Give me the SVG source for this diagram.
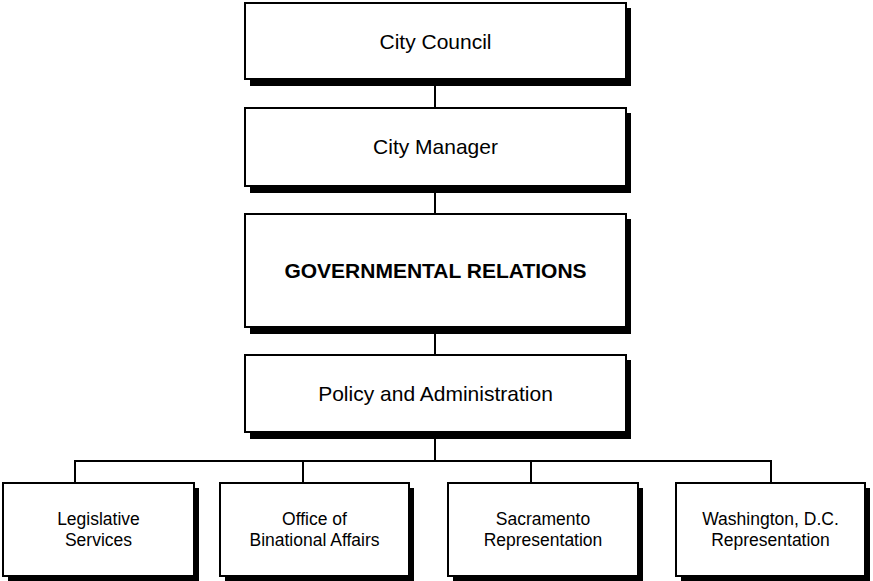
<svg xmlns="http://www.w3.org/2000/svg" width="873" height="581" viewBox="0 0 873 581">
<defs>
<style>
.box{fill:#fff;stroke:#000;stroke-width:2}
.sh{fill:#000}
.t{font-family:"Liberation Sans",Arial,sans-serif;font-size:21px;fill:#000;text-anchor:middle}
.b{font-weight:bold}
.s{font-size:17.5px}
.c{stroke:#000;stroke-width:2;fill:none}
</style>
</defs>
<rect width="873" height="581" fill="#fff"/>
<g id="connectors">
<line class="c" x1="435" y1="80" x2="435" y2="107"/>
<line class="c" x1="435" y1="187" x2="435" y2="213"/>
<line class="c" x1="435" y1="328" x2="435" y2="354"/>
<line class="c" x1="435" y1="433" x2="435" y2="461"/>
<polyline class="c" points="75,482 75,461 771,461 771,482"/>
<line class="c" x1="303" y1="461" x2="303" y2="482"/>
<line class="c" x1="531" y1="461" x2="531" y2="482"/>
</g>
<g id="city-council">
<rect class="sh" x="250" y="8" width="381" height="78"/>
<rect class="box" x="245" y="3" width="381" height="76"/>
<text class="t" x="435.5" y="48.5">City Council</text>
</g>
<g id="city-manager">
<rect class="sh" x="250" y="113" width="381" height="80"/>
<rect class="box" x="245" y="108" width="381" height="78"/>
<text class="t" x="435.5" y="154">City Manager</text>
</g>
<g id="governmental-relations">
<rect class="sh" x="250" y="219" width="381" height="115"/>
<rect class="box" x="245" y="214" width="381" height="113"/>
<text class="t b" x="435.5" y="278">GOVERNMENTAL RELATIONS</text>
</g>
<g id="policy-administration">
<rect class="sh" x="250" y="360" width="381" height="79"/>
<rect class="box" x="245" y="355" width="381" height="77"/>
<text class="t" x="435.5" y="401">Policy and Administration</text>
</g>
<g id="legislative-services">
<rect class="sh" x="8" y="488" width="191" height="95"/>
<rect class="box" x="3" y="483" width="191" height="93"/>
<text class="t s" x="98.5" y="525">Legislative</text>
<text class="t s" x="98.5" y="546">Services</text>
</g>
<g id="binational-affairs">
<rect class="sh" x="225" y="488" width="189" height="95"/>
<rect class="box" x="220" y="483" width="189" height="93"/>
<text class="t s" x="314.5" y="525">Office of</text>
<text class="t s" x="314.5" y="546">Binational Affairs</text>
</g>
<g id="sacramento">
<rect class="sh" x="453" y="488" width="190" height="95"/>
<rect class="box" x="448" y="483" width="190" height="93"/>
<text class="t s" x="543" y="525">Sacramento</text>
<text class="t s" x="543" y="546">Representation</text>
</g>
<g id="washington">
<rect class="sh" x="681" y="488" width="189" height="95"/>
<rect class="box" x="676" y="483" width="189" height="93"/>
<text class="t s" x="770.5" y="525">Washington, D.C.</text>
<text class="t s" x="770.5" y="546">Representation</text>
</g>
</svg>
